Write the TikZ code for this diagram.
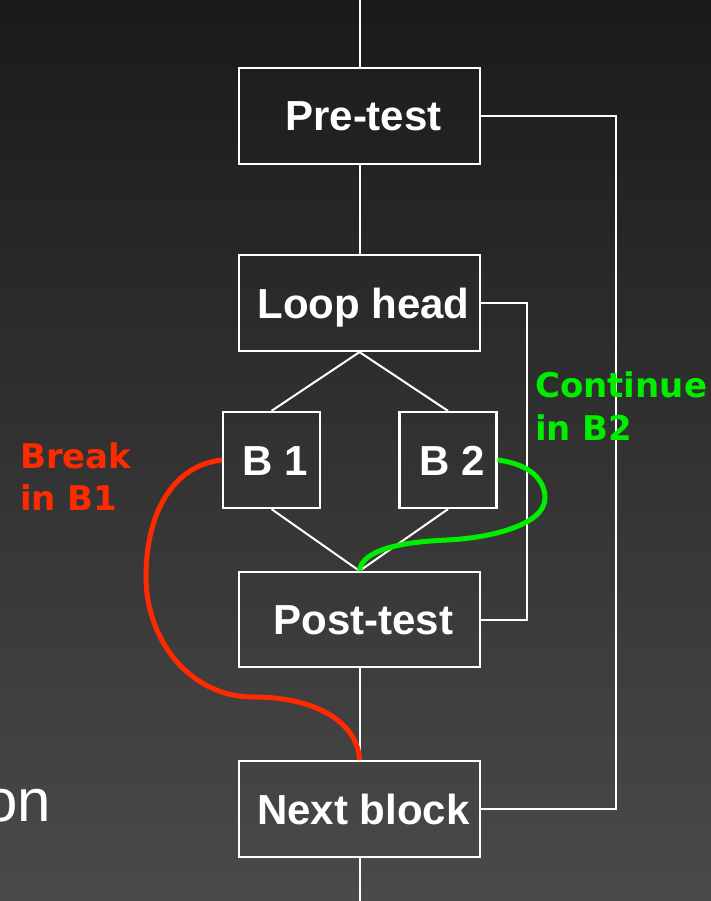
\documentclass[tikz,border=0pt]{standalone}
\usepackage{fontspec}
\setmainfont{Liberation Sans}
\newfontfamily\labelfont{DejaVu Sans}
\definecolor{bgtop}{RGB}{26,26,26}
\definecolor{bgbot}{RGB}{74,74,74}
\definecolor{brk}{RGB}{255,42,0}
\definecolor{cnt}{RGB}{0,238,0}
\begin{document}
\begin{tikzpicture}[x=1pt,y=-1pt,
  blk/.style={draw=white, line width=2.2pt, minimum height=96pt, text=white,
    font=\fontsize{42pt}{50pt}\selectfont\bfseries, text height=30pt, text depth=0pt, inner sep=0pt,
    execute at begin node={\hspace*{8pt}}},
  wide/.style={blk, minimum width=241pt},
  narrow/.style={blk, minimum width=97pt},
  conn/.style={white, line width=2pt},
  redlbl/.style={text=brk, font=\labelfont\fontsize{34pt}{40pt}\selectfont\bfseries, anchor=base west, inner sep=0pt},
  grnlbl/.style={redlbl, text=cnt},
  jump/.style={line width=5pt}]
\useasboundingbox (0,0) rectangle (711,901);
\shade[top color=bgtop, bottom color=bgbot] (0,0) rectangle (711,901);

\node[wide]   (pre)  at (359.5,116)   {Pre-test};
\node[wide]   (loop) at (359.5,303)   {Loop head};
\node[narrow] (b1)   at (271.5,460)   {B 1};
\node[narrow] (b2)   at (448,460)     {B 2};
\node[wide, minimum height=95pt] (post) at (359.5,619.5) {Post-test};
\node[wide]   (next) at (359.5,809)   {Next block};

\coordinate (in)  at (359.5,0);
\coordinate (out) at (359.5,901);
\coordinate (rx)  at (616,0);
\coordinate (lx)  at (527,0);

\draw[conn] (in) -- (pre);
\draw[conn] (pre) -- (loop);
\draw[conn] (loop.south) -- (b1.north);
\draw[conn] (loop.south) -- (b2.north);
\draw[conn] (b1.south) -- (post.north);
\draw[conn] (b2.south) -- (post.north);
\draw[conn] (post) -- (next);
\draw[conn] (next) -- (out);
\draw[conn] (pre.east) -- (pre.east -| rx) |- (next.east);
\draw[conn] (loop.east) -- (loop.east -| lx) |- (post.east);

\draw[brk, jump] (b1.west) .. controls (175,465) and (146,510) .. (146,577)
  .. controls (146,640) and (190,697) .. (253,697)
  .. controls (320,697) and (358,725) .. (next.north);
\draw[cnt, jump] (b2.east) .. controls (530,464) and (545,480) .. (545,498)
  .. controls (545,525) and (490,538) .. (447,540)
  .. controls (400,542) and (362,550) .. (post.north);

\node[redlbl] (brk1) at (20,468) {Break};
\node[redlbl] (brk2) at (20,510) {in B1};
\node[grnlbl] (cnt1) at (535,397) {Continue};
\node[grnlbl] (cnt2) at (535,440) {in B2};

\node[text=white, font=\fontsize{60pt}{70pt}\selectfont, anchor=base east, inner sep=0pt] (on) at (51,821) {on};
\end{tikzpicture}
\end{document}
